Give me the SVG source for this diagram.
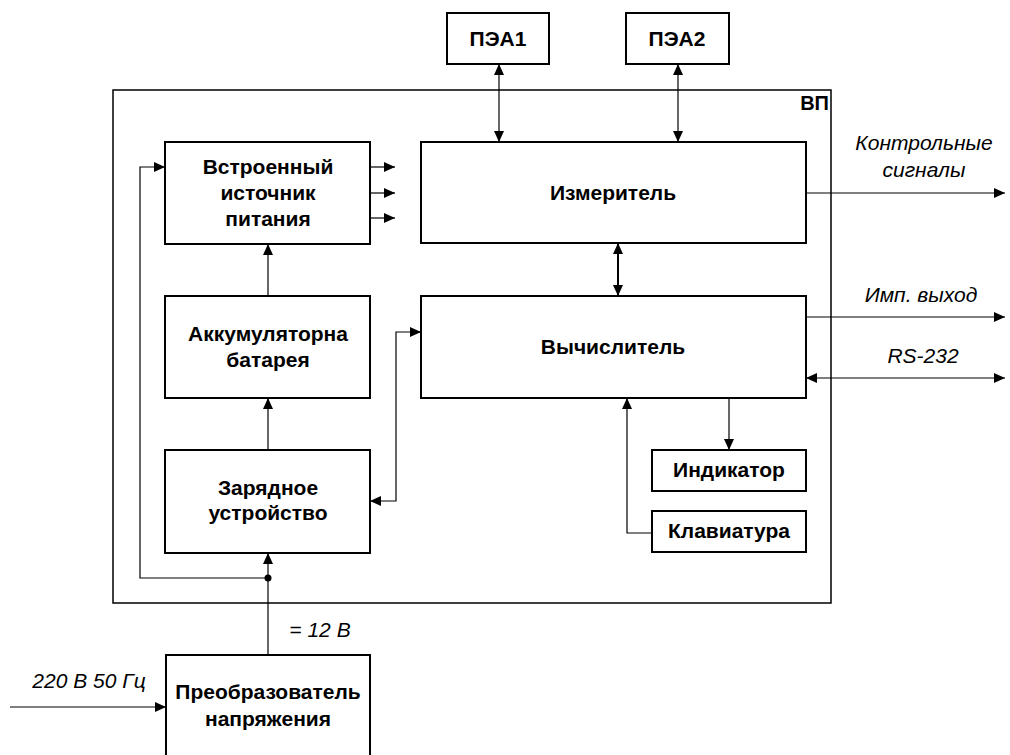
<svg xmlns="http://www.w3.org/2000/svg" width="1010" height="755" viewBox="0 0 1010 755">
<style>
.box{fill:#fff;stroke:#000;stroke-width:2}
.outer{fill:none;stroke:#000;stroke-width:1.5}
.lbl{font-family:"Liberation Sans",Arial,sans-serif;font-weight:bold;font-size:21px;text-anchor:middle;fill:#000}
.it{font-family:"Liberation Sans",Arial,sans-serif;font-style:italic;font-size:21px;text-anchor:middle;fill:#000}
.ln{fill:none;stroke:#000;stroke-width:1.2}
</style>
<defs>
<marker id="ah" viewBox="0 0 11 10" refX="11" refY="5" markerWidth="11" markerHeight="10" markerUnits="userSpaceOnUse" orient="auto-start-reverse"><path d="M0,0 L11,5 L0,10 z" fill="#000"/></marker>
</defs>
<rect width="1010" height="755" fill="#fff"/>
<g id="vp"><rect class="outer" x="113" y="90" width="718" height="513"/><text class="lbl" x="829" y="110" style="text-anchor:end;font-size:20px">ВП</text></g>
<g id="pea1"><rect class="box" x="447" y="13" width="102" height="51"/><text class="lbl" x="498" y="46">ПЭА1</text></g>
<g id="pea2"><rect class="box" x="626" y="13" width="103" height="51"/><text class="lbl" x="677" y="46">ПЭА2</text></g>
<g id="vip"><rect class="box" x="165" y="142" width="205" height="102"/><text class="lbl" x="268" y="174">Встроенный</text><text class="lbl" x="268" y="200">источник</text><text class="lbl" x="268" y="226">питания</text></g>
<g id="izm"><rect class="box" x="421" y="142" width="385" height="101"/><text class="lbl" x="613" y="200">Измеритель</text></g>
<g id="akk"><rect class="box" x="165" y="296" width="205" height="102"/><text class="lbl" x="268" y="341">Аккумуляторна</text><text class="lbl" x="268" y="367">батарея</text></g>
<g id="vych"><rect class="box" x="421" y="296" width="385" height="102"/><text class="lbl" x="613" y="354">Вычислитель</text></g>
<g id="zar"><rect class="box" x="165" y="450" width="205" height="103"/><text class="lbl" x="268" y="495">Зарядное</text><text class="lbl" x="268" y="520">устройство</text></g>
<g id="ind"><rect class="box" x="652" y="450" width="154" height="41"/><text class="lbl" x="729" y="477">Индикатор</text></g>
<g id="kl"><rect class="box" x="652" y="511" width="154" height="41"/><text class="lbl" x="729" y="538">Клавиатура</text></g>
<g id="preob"><rect class="box" x="166" y="655" width="204" height="110"/><text class="lbl" x="268" y="699">Преобразователь</text><text class="lbl" x="268" y="726">напряжения</text></g>
<g id="connectors">
<line class="ln" x1="499" y1="64" x2="499" y2="142" marker-start="url(#ah)" marker-end="url(#ah)"/>
<line class="ln" x1="678" y1="64" x2="678" y2="142" marker-start="url(#ah)" marker-end="url(#ah)"/>
<line class="ln" x1="370" y1="167" x2="395" y2="167" marker-end="url(#ah)"/>
<line class="ln" x1="370" y1="193" x2="395" y2="193" marker-end="url(#ah)"/>
<line class="ln" x1="370" y1="218" x2="395" y2="218" marker-end="url(#ah)"/>
<line class="ln" x1="618" y1="243" x2="618" y2="296" marker-start="url(#ah)" marker-end="url(#ah)" style="stroke-width:2"/>
<line class="ln" x1="268" y1="296" x2="268" y2="244" marker-end="url(#ah)"/>
<line class="ln" x1="268" y1="450" x2="268" y2="398" marker-end="url(#ah)"/>
<line class="ln" x1="268" y1="655" x2="268" y2="553" marker-end="url(#ah)"/>
<polyline class="ln" points="268,578 140,578 140,167 165,167" marker-end="url(#ah)"/>
<circle cx="268" cy="578" r="3.5" fill="#000"/>
<polyline class="ln" points="370,501 396,501 396,332 421,332" marker-start="url(#ah)" marker-end="url(#ah)"/>
<line class="ln" x1="806" y1="193" x2="1005" y2="193" marker-end="url(#ah)"/>
<line class="ln" x1="806" y1="317" x2="1005" y2="317" marker-end="url(#ah)"/>
<line class="ln" x1="806" y1="378" x2="1005" y2="378" marker-start="url(#ah)" marker-end="url(#ah)"/>
<line class="ln" x1="729" y1="398" x2="729" y2="450" marker-end="url(#ah)"/>
<polyline class="ln" points="652,533 627,533 627,398" marker-end="url(#ah)"/>
<line class="ln" x1="10" y1="707" x2="166" y2="707" marker-end="url(#ah)"/>
</g>
<g id="labels">
<text class="it" x="924" y="150">Контрольные</text>
<text class="it" x="924" y="177">сигналы</text>
<text class="it" x="921" y="302">Имп. выход</text>
<text class="it" x="923" y="363">RS-232</text>
<text class="it" x="320" y="637">= 12 В</text>
<text class="it" x="89" y="688">220 В 50 Гц</text>
</g>
</svg>
